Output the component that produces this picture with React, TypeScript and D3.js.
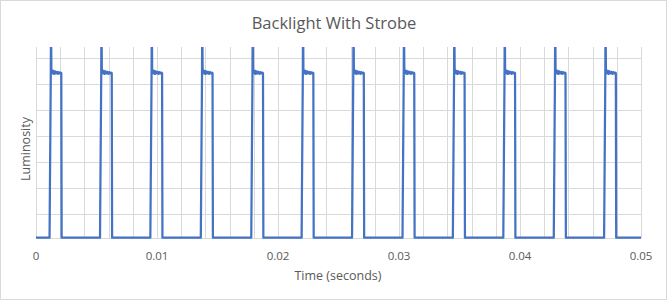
import React, { useEffect } from "react";
import * as d3 from "d3";

const W = 667;
const H = 300;

const chartTitle = "Backlight With Strobe";
const xAxisTitle = "Time (seconds)";
const yAxisTitle = "Luminosity";

const xTickValues = [0, 0.01, 0.02, 0.03, 0.04, 0.05];
const xTickLabels = ["0", "0.01", "0.02", "0.03", "0.04", "0.05"];
const xMinorGrid = [
  0, 0.002, 0.004, 0.006, 0.008, 0.01, 0.012, 0.014, 0.016, 0.018, 0.02, 0.022, 0.024,
  0.026, 0.028, 0.03, 0.032, 0.034, 0.036, 0.038, 0.04, 0.042, 0.044, 0.046, 0.048, 0.05,
];
const yGridValues = [1, 2, 3, 4, 5, 6, 7];

// time (s) at which each strobe pulse starts
const pulseRise = [
  0.00112, 0.00529, 0.00945, 0.01362, 0.01779, 0.02195, 0.02612, 0.03029, 0.03445,
  0.03862, 0.04279, 0.04695,
];
// shape of one pulse: time after rise (s) and luminosity level
const pulseOffset = [
  0, 0.0001, 0.00012, 0.00015, 0.0002, 0.00026, 0.00032, 0.00038, 0.00045, 0.00052,
  0.0006, 0.00068, 0.00076, 0.00084, 0.00092, 0.00097, 0.001,
];
const pulseLevel = [
  0.1, 6.3, 8.6, 6.6, 6.5, 6.42, 6.52, 6.4, 6.5, 6.42, 6.48, 6.4, 6.47, 6.42, 6.45, 6.43,
  0.1,
];
const baseLevel = 0.1;
const timeStart = 0;
const timeEnd = 0.05;

const plot = { left: 36, right: 641, top: 47, bottom: 238.5 };

export default function App() {
  useEffect(() => {
    document.body.style.margin = "0";
  }, []);

  const x = d3.scaleLinear().domain([0, 0.05]).range([plot.left, plot.right]);
  const y = d3.scaleLinear().domain([0, 7]).range([240.3, 58.3]);

  const points: [number, number][] = [[timeStart, baseLevel]];
  pulseRise.forEach((r) => {
    pulseOffset.forEach((o, i) => points.push([r + o, pulseLevel[i]]));
  });
  points.push([timeEnd, baseLevel]);

  const line = d3
    .line<[number, number]>()
    .x((d) => x(d[0]))
    .y((d) => y(d[1]));

  const font = "'Open Sans', 'DejaVu Sans', sans-serif";
  const grid = "#d9d9d9";
  const textCol = "#595959";

  return (
    <svg
      width={W}
      height={H}
      style={{ position: "absolute", left: 0, top: 0, display: "block" }}
      fontFamily={font}
    >
      <rect x={0.5} y={0.5} width={W - 1} height={H - 1} fill="#fff" stroke={grid} />
      <defs>
        <clipPath id="plotclip">
          <rect
            x={plot.left}
            y={plot.top}
            width={plot.right - plot.left}
            height={plot.bottom - plot.top + 3}
          />
        </clipPath>
      </defs>
      {yGridValues.map((v) => (
        <line
          key={"h" + v}
          x1={plot.left}
          x2={plot.right}
          y1={Math.round(y(v)) + 0.5}
          y2={Math.round(y(v)) + 0.5}
          stroke={grid}
          strokeWidth={1}
        />
      ))}
      {xMinorGrid.map((v) => (
        <line
          key={"v" + v}
          x1={Math.round(x(v)) + 0.5}
          x2={Math.round(x(v)) + 0.5}
          y1={plot.top}
          y2={plot.bottom}
          stroke={grid}
          strokeWidth={1}
        />
      ))}
      <line
        x1={plot.left}
        x2={plot.right}
        y1={plot.bottom}
        y2={plot.bottom}
        stroke={grid}
        strokeWidth={1}
      />
      <path
        d={line(points) || ""}
        fill="none"
        stroke="#4472C4"
        strokeWidth={2.25}
        strokeLinejoin="round"
        clipPath="url(#plotclip)"
      />
      {xTickValues.map((v, i) => (
        <text
          key={"t" + v}
          x={x(v)}
          y={260}
          textAnchor="middle"
          fontSize={11.5}
          fill={textCol}
        >
          {xTickLabels[i]}
        </text>
      ))}
      <text x={338} y={280} textAnchor="middle" fontSize={12.5} fill={textCol}>
        {xAxisTitle}
      </text>
      <text
        transform={`translate(30,149) rotate(-90)`}
        textAnchor="middle"
        fontSize={12.5}
        fill={textCol}
      >
        {yAxisTitle}
      </text>
      <text x={334} y={28.5} textAnchor="middle" fontSize={16.5} fill={textCol}>
        {chartTitle}
      </text>
    </svg>
  );
}
